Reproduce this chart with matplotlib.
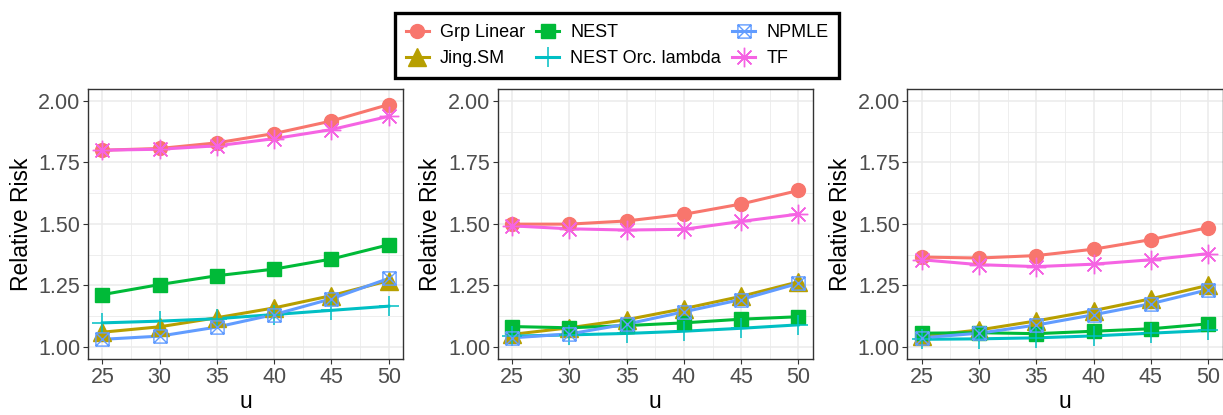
import numpy as np
import matplotlib
matplotlib.use('Agg')
import matplotlib.pyplot as plt
from matplotlib.path import Path

plt.rcParams['font.family'] = ['Liberation Sans', 'DejaVu Sans']

u = [25, 30, 35, 40, 45, 50]
methods = ['Grp Linear', 'Jing.SM', 'NEST', 'NEST Orc. lambda', 'NPMLE', 'TF']

# one list of risks per panel, in the order of methods
grp_1 = [1.800, 1.807, 1.830, 1.868, 1.919, 1.986]
jing_1 = [1.059, 1.081, 1.118, 1.158, 1.208, 1.269]
nest_1 = [1.212, 1.253, 1.289, 1.316, 1.357, 1.415]
orc_1 = [1.097, 1.104, 1.114, 1.131, 1.148, 1.165]
npmle_1 = [1.030, 1.043, 1.080, 1.131, 1.195, 1.278]
tf_1 = [1.800, 1.804, 1.818, 1.847, 1.884, 1.938]

grp_2 = [1.499, 1.499, 1.512, 1.539, 1.581, 1.636]
jing_2 = [1.050, 1.077, 1.110, 1.155, 1.205, 1.264]
nest_2 = [1.082, 1.077, 1.086, 1.097, 1.112, 1.122]
orc_2 = [1.043, 1.048, 1.054, 1.063, 1.075, 1.089]
npmle_2 = [1.036, 1.052, 1.092, 1.142, 1.192, 1.258]
tf_2 = [1.492, 1.480, 1.475, 1.478, 1.510, 1.540]

grp_3 = [1.365, 1.361, 1.371, 1.397, 1.436, 1.485]
jing_3 = [1.043, 1.068, 1.105, 1.147, 1.195, 1.250]
nest_3 = [1.055, 1.057, 1.053, 1.063, 1.073, 1.093]
orc_3 = [1.030, 1.032, 1.036, 1.044, 1.055, 1.066]
npmle_3 = [1.036, 1.055, 1.088, 1.130, 1.175, 1.232]
tf_3 = [1.354, 1.334, 1.326, 1.336, 1.354, 1.379]

panels = [
    [grp_1, jing_1, nest_1, orc_1, npmle_1, tf_1],
    [grp_2, jing_2, nest_2, orc_2, npmle_2, tf_2],
    [grp_3, jing_3, nest_3, orc_3, npmle_3, tf_3],
]

colors = ['#F8766D', '#B79F00', '#00BA38', '#00BFC4', '#619CFF', '#F564E3']

# square with a cross inside, like R's pch 7
boxx = Path([(-1, -1), (1, -1), (1, 1), (-1, 1), (-1, -1),
             (-1, -1), (1, 1), (-1, 1), (1, -1)],
            [Path.MOVETO, Path.LINETO, Path.LINETO, Path.LINETO, Path.CLOSEPOLY,
             Path.MOVETO, Path.LINETO, Path.MOVETO, Path.LINETO])

styles = [
    dict(marker='o', ms=10),
    dict(marker='^', ms=13.5),
    dict(marker='s', ms=9.5),
    dict(marker='+', ms=15, mew=1.1),
    dict(marker=boxx, ms=9.5, mfc='none', mew=1.0),
    dict(marker=(8, 2, 0), ms=14, mew=1.0),
]

fig = plt.figure(figsize=(12.23, 4.15), dpi=100)
lefts = [0.072, 0.407, 0.742]

handles = []
for k, vals in enumerate(panels):
    ax = fig.add_axes([lefts[k], 0.135, 0.2576, 0.651])
    ax.set_xlim(23.75, 51.25)
    ax.set_ylim(0.95, 2.05)
    ax.set_xticks(u)
    ax.set_yticks([1.0, 1.25, 1.5, 1.75, 2.0])
    ax.set_yticklabels(['1.00', '1.25', '1.50', '1.75', '2.00'])
    ax.set_xticks(np.arange(27.5, 50, 5), minor=True)
    ax.set_yticks([1.125, 1.375, 1.625, 1.875], minor=True)
    ax.grid(which='major', color='#EBEBEB', lw=1.1)
    ax.grid(which='minor', color='#EBEBEB', lw=0.6)
    ax.set_axisbelow(True)
    ax.tick_params(which='minor', length=0)
    ax.tick_params(which='major', length=3.5, width=0.8, color='#333333',
                   labelsize=15.5, labelcolor='#4D4D4D', pad=2)
    for s in ax.spines.values():
        s.set_color('#333333')
        s.set_linewidth(1.0)

    # lines first, then points on top
    for j in range(len(methods)):
        ax.plot(u, vals[j], color=colors[j], lw=2.2, zorder=2)
    for j in range(len(methods)):
        st = dict(styles[j])
        if 'mfc' not in st:
            st['mfc'] = colors[j]
        ax.plot(u, vals[j], ls='none', color=colors[j], mec=colors[j], zorder=3, **st)

    ax.set_xlabel('u', fontsize=16.5, labelpad=2)
    ax.set_ylabel('Relative Risk', fontsize=16.5, labelpad=4)

for j in range(len(methods)):
    st = dict(styles[j])
    if 'mfc' not in st:
        st['mfc'] = colors[j]
    h, = plt.plot([], [], color=colors[j], mec=colors[j], lw=2.2, **st)
    handles.append(h)

leg = fig.legend(handles, methods, ncol=3, loc='upper center',
                 bbox_to_anchor=(0.5045, 0.99), fontsize=13, frameon=True,
                 fancybox=False, edgecolor='black', framealpha=1,
                 handlelength=1.3, columnspacing=0.6, handletextpad=0.6,
                 labelspacing=0.5, borderpad=0.6)
leg.get_frame().set_linewidth(2.4)

fig.savefig('out.png', dpi=100)
